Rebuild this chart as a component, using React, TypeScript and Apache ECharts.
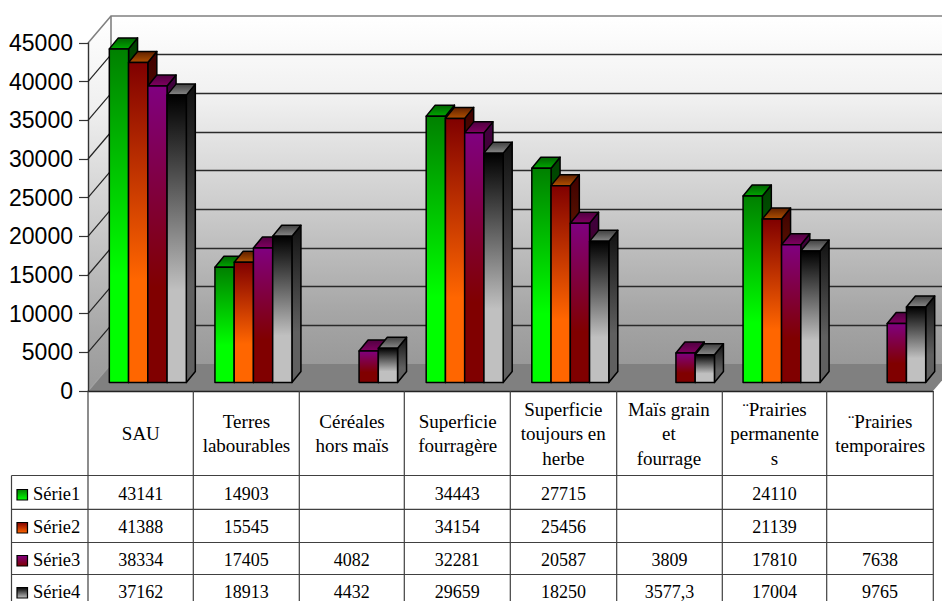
import React, { useEffect, useRef } from "react";
import * as echarts from "echarts";

const categories = [
  "SAU",
  "Terres\nlabourables",
  "Céréales\nhors maïs",
  "Superficie\nfourragère",
  "Superficie\ntoujours en\nherbe",
  "Maïs grain\net\nfourrage",
  "¨Prairies\npermanente\ns",
  "¨Prairies\ntemporaires",
];
const seriesNames = ["Série1", "Série2", "Série3", "Série4"];
const serie1 = [43141, 14903, null, 34443, 27715, null, 24110, null];
const serie2 = [41388, 15545, null, 34154, 25456, null, 21139, null];
const serie3 = [38334, 17405, 4082, 32281, 20587, 3809, 17810, 7638];
const serie4 = [37162, 18913, 4432, 29659, 18250, 3577.3, 17004, 9765];
const seriesValues = [serie1, serie2, serie3, serie4];
const axisTicks = [0, 5000, 10000, 15000, 20000, 25000, 30000, 35000, 40000, 45000];

// Face colours per series: [top of gradient, bottom of gradient]
const frontColors = [
  ["#008000", "#00ff00"],
  ["#800000", "#ff6600"],
  ["#800080", "#800000"],
  ["#000000", "#c0c0c0"],
];
const sideColors = [
  ["#004000", "#008000"],
  ["#400000", "#803300"],
  ["#400040", "#400000"],
  ["#101010", "#606060"],
];
const capColors = [
  ["#006000", "#00a800"],
  ["#602000", "#b05000"],
  ["#500040", "#800060"],
  ["#404040", "#888888"],
];

const FONT_SERIF = "'Liberation Serif', serif";
const FRONT = { left: 88, top: 43, width: 845, height: 348 };
const WALL = { dx: 23, dy: -27 };
const BAR = { width: 19.25, dx: 9, dy: -11, shiftX: 7, shiftY: -8.5 };
const columnLines = [88, 193.3, 299.3, 404.3, 510.3, 616.7, 722.3, 826.7, 933.3];
const rowLines = [475.5, 509.3, 542.5, 574.5];
const rowCenters = [494, 527, 560, 592];

const vGradient = (stops: string[], end = 1) => ({
  type: "linear",
  x: 0,
  y: 0,
  x2: 0,
  y2: 1,
  colorStops: [
    { offset: 0, color: stops[0] },
    { offset: end, color: stops[1] },
    { offset: 1, color: stops[1] },
  ],
});

const wallGradient = {
  type: "linear",
  x: 0,
  y: 0,
  x2: 0,
  y2: 1,
  colorStops: [
    { offset: 0, color: "#ffffff" },
    { offset: 0.24, color: "#f0f0f0" },
    { offset: 0.55, color: "#cccccc" },
    { offset: 0.85, color: "#a6a6a6" },
    { offset: 1, color: "#999999" },
  ],
};

const barRenderer = (seriesIndex: number) => (_params: any, api: any) => {
  const cat = api.value(0);
  const val = api.value(1);
  const base = api.coord([cat, 0]);
  const top = api.coord([cat, val]);
  const x0 = base[0] + BAR.shiftX - 2 * BAR.width + seriesIndex * BAR.width;
  const x1 = x0 + BAR.width;
  const yB = base[1] + BAR.shiftY;
  const yT = top[1] + BAR.shiftY;
  const edge = { stroke: "#000", lineWidth: 1.5, lineJoin: "round" };
  return {
    type: "group",
    children: [
      {
        type: "polygon",
        shape: {
          points: [
            [x1, yT],
            [x1 + BAR.dx, yT + BAR.dy],
            [x1 + BAR.dx, yB + BAR.dy],
            [x1, yB],
          ],
        },
        style: { fill: vGradient(sideColors[seriesIndex], 0.68), ...edge },
      },
      {
        type: "polygon",
        shape: {
          points: [
            [x0, yT],
            [x0 + BAR.dx, yT + BAR.dy],
            [x1 + BAR.dx, yT + BAR.dy],
            [x1, yT],
          ],
        },
        style: { fill: vGradient(capColors[seriesIndex]), ...edge },
      },
      {
        type: "rect",
        shape: { x: x0, y: yT, width: BAR.width, height: yB - yT },
        style: { fill: vGradient(frontColors[seriesIndex], 0.68), ...edge },
      },
    ],
  };
};

// Slanted lines of the left wall, one per axis tick
const wallTickRenderer = (params: any, api: any) => {
  const y = api.coord([0, api.value(1)])[1];
  const x = params.coordSys.x;
  return {
    type: "line",
    shape: { x1: x, y1: y, x2: x + WALL.dx, y2: y + WALL.dy },
    style: { stroke: "#222", lineWidth: 1.2 },
  };
};

const formatCell = (v: number | null) =>
  v === null ? "" : String(v).replace(".", ",");

function buildGraphics() {
  const { left, top, width, height } = FRONT;
  const bottom = top + height;
  const els: any[] = [
    {
      type: "polygon",
      z: -20,
      shape: {
        points: [
          [left + WALL.dx, top + WALL.dy],
          [left + width + WALL.dx, top + WALL.dy],
          [left + width + WALL.dx, bottom + WALL.dy],
          [left + WALL.dx, bottom + WALL.dy],
        ],
      },
      style: { fill: wallGradient },
    },
    {
      type: "polygon",
      z: -20,
      shape: {
        points: [
          [left, top],
          [left + WALL.dx, top + WALL.dy],
          [left + WALL.dx, bottom + WALL.dy],
          [left, bottom],
        ],
      },
      style: { fill: wallGradient },
    },
    {
      type: "polygon",
      z: -19,
      shape: {
        points: [
          [left, bottom],
          [left + WALL.dx, bottom + WALL.dy],
          [left + width + WALL.dx, bottom + WALL.dy],
          [left + width, bottom],
        ],
      },
      style: { fill: "#808080" },
    },
    {
      type: "polyline",
      z: -18,
      shape: {
        points: [
          [left, top],
          [left + WALL.dx, top + WALL.dy],
          [left + width + WALL.dx, top + WALL.dy],
        ],
      },
      style: { fill: "none", stroke: "#808080", lineWidth: 1.6 },
    },
    {
      type: "line",
      z: -18,
      shape: {
        x1: left + WALL.dx,
        y1: top + WALL.dy,
        x2: left + WALL.dx,
        y2: bottom + WALL.dy,
      },
      style: { stroke: "#808080", lineWidth: 1.6 },
    },
    {
      type: "line",
      z: -18,
      shape: { x1: left, y1: bottom, x2: left + WALL.dx, y2: bottom + WALL.dy },
      style: { stroke: "#a0a0a0", lineWidth: 1.2 },
    },
  ];

  const tableLine = (x1: number, y1: number, x2: number, y2: number) => ({
    type: "line",
    z: 10,
    shape: { x1, y1, x2, y2 },
    style: { stroke: "#404040", lineWidth: 1.2 },
  });

  const tableBottom = 601;
  columnLines.forEach((x) => els.push(tableLine(x, bottom, x, tableBottom)));
  els.push(tableLine(11.5, rowLines[0], 11.5, tableBottom));
  rowLines.forEach((y) => els.push(tableLine(11.5, y, columnLines[8], y)));

  seriesValues.forEach((values, s) => {
    const cy = rowCenters[s];
    els.push({
      type: "rect",
      z: 10,
      shape: { x: 17, y: cy - 4.5, width: 10.5, height: 10.5 },
      style: { fill: vGradient(frontColors[s]), stroke: "#000", lineWidth: 1.2 },
    });
    els.push({
      type: "text",
      z: 10,
      x: 33,
      y: cy,
      style: {
        text: seriesNames[s],
        font: `18.5px ${FONT_SERIF}`,
        fill: "#000",
        textAlign: "left",
        textVerticalAlign: "middle",
      },
    });
    values.forEach((v, i) => {
      if (v === null) return;
      els.push({
        type: "text",
        z: 10,
        x: (columnLines[i] + columnLines[i + 1]) / 2,
        y: cy,
        style: {
          text: formatCell(v),
          font: `18px ${FONT_SERIF}`,
          fill: "#000",
          textAlign: "center",
          textVerticalAlign: "middle",
        },
      });
    });
  });
  return els;
}

export default function App() {
  const ref = useRef<HTMLDivElement>(null);

  useEffect(() => {
    if (!ref.current) return;
    const chart = echarts.init(ref.current, null, { renderer: "svg" });
    chart.setOption({
      animation: false,
      backgroundColor: "#ffffff",
      grid: [
        { ...FRONT, containLabel: false },
        {
          left: FRONT.left + WALL.dx,
          top: FRONT.top + WALL.dy,
          width: FRONT.width,
          height: FRONT.height,
        },
      ],
      xAxis: [
        {
          type: "category",
          gridIndex: 0,
          data: categories,
          axisTick: { show: false },
          axisLine: { show: true, onZero: false, lineStyle: { color: "#222", width: 1.4 } },
          axisLabel: {
            interval: 0,
            margin: 42.5,
            verticalAlign: "middle",
            fontFamily: FONT_SERIF,
            fontSize: 19,
            lineHeight: 24.5,
            color: "#000",
            align: "center",
          },
          splitLine: { show: false },
        },
        { type: "value", gridIndex: 1, show: false, min: 0, max: 1 },
      ],
      yAxis: [
        {
          type: "value",
          gridIndex: 0,
          min: 0,
          max: 45000,
          interval: 5000,
          axisLine: { show: true, lineStyle: { color: "#333", width: 1.4 } },
          axisTick: { show: true, length: 9, lineStyle: { color: "#333", width: 1.2 } },
          axisLabel: {
            margin: 15,
            fontFamily: "'Liberation Sans', Arial, sans-serif",
            fontSize: 23,
            color: "#000",
            formatter: (v: number) => String(v),
          },
          splitLine: { show: false },
        },
        {
          type: "value",
          gridIndex: 1,
          min: 0,
          max: 45000,
          interval: 5000,
          axisLine: { show: false },
          axisTick: { show: false },
          axisLabel: { show: false },
          splitLine: {
            show: true,
            showMinLine: false,
            showMaxLine: false,
            lineStyle: { color: "#2a2a2a", width: 1.3 },
          },
        },
      ],
      graphic: { elements: buildGraphics() },
      series: [
        {
          type: "custom",
          name: "wallTicks",
          silent: true,
          z: 1,
          xAxisIndex: 0,
          yAxisIndex: 0,
          data: axisTicks.slice(1, -1).map((t) => [0, t]),
          encode: { x: 0, y: 1 },
          renderItem: wallTickRenderer,
        },
        ...seriesValues.map((values, s) => ({
          type: "custom",
          name: seriesNames[s],
          z: 2 + s,
          xAxisIndex: 0,
          yAxisIndex: 0,
          clip: false,
          encode: { x: 0, y: 1 },
          data: values
            .map((v, i) => (v === null ? null : [i, v]))
            .filter((d) => d !== null),
          renderItem: barRenderer(s),
        })),
      ],
    });
    return () => chart.dispose();
  }, []);

  return (
    <div
      ref={ref}
      style={{ position: "absolute", left: 0, top: 0, width: 942, height: 601, overflow: "hidden" }}
    />
  );
}
